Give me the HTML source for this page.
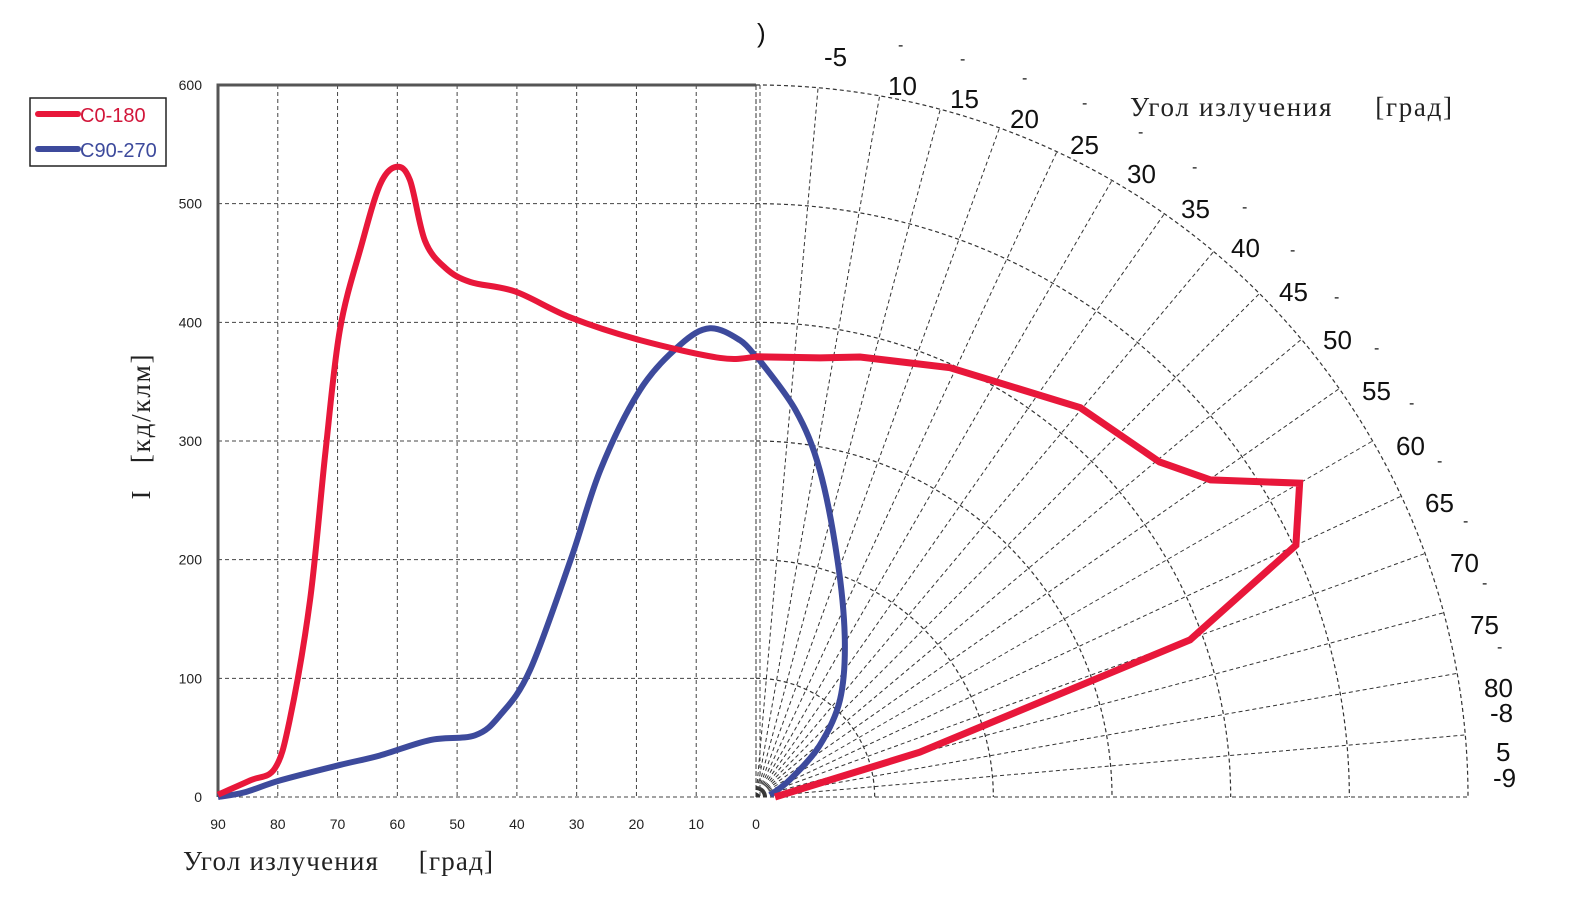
<!DOCTYPE html>
<html><head><meta charset="utf-8">
<style>
html,body{margin:0;padding:0;background:#fff;}
svg{display:block;}
</style></head>
<body>
<svg id="chart" width="1573" height="917" viewBox="0 0 1573 917" xmlns="http://www.w3.org/2000/svg">
  <g id="grid"></g>
  <g id="ticks" font-family="Liberation Sans, sans-serif" font-size="14" fill="#222"></g>
  <g id="polarLabels" font-family="Liberation Sans, sans-serif" font-size="26" fill="#111"></g>
  <g id="series"></g>
  <text x="183" y="870" textLength="310" lengthAdjust="spacing" font-family="Liberation Serif, serif" font-size="27" fill="#222">Угол излучения&#160;&#160;&#160;&#160; [град]</text>
  <text x="1130" y="116" textLength="322" lengthAdjust="spacing" font-family="Liberation Serif, serif" font-size="27" fill="#222">Угол излучения&#160;&#160;&#160;&#160; [град]</text>
  <text transform="translate(150,427) rotate(-90)" text-anchor="middle" textLength="145" lengthAdjust="spacing" font-family="Liberation Serif, serif" font-size="27" fill="#222">I&#160;&#160; [кд/клм]</text>
  <g>
    <rect x="30" y="98" width="136" height="68" fill="#fff" stroke="#222" stroke-width="1.5"/>
    <line x1="38" y1="114" x2="78" y2="114" stroke="#e8173a" stroke-width="6" stroke-linecap="round"/>
    <text x="80" y="122" font-family="Liberation Sans, sans-serif" font-size="20" fill="#d2163a">C0-180</text>
    <line x1="38" y1="149" x2="78" y2="149" stroke="#3d4a9c" stroke-width="6" stroke-linecap="round"/>
    <text x="80" y="157" font-family="Liberation Sans, sans-serif" font-size="20" fill="#3d4a9c">C90-270</text>
  </g>
</svg>
<script>
// ---- data ----
const yTicks = [0,100,200,300,400,500,600];
const xTicks = [90,80,70,60,50,40,30,20,10,0];
const redAngles = [90,84.6,80.5,78,74.6,72,69.6,66,62.9,60.2,57.9,55.4,52,47.8,40.3,31,19.4,6,0];
const redValues = [2,14,24,65,166,292,394,465,516,531,520,469,446,434,426,404,385,370,371];
const blueAngles = [90,85.5,79.6,69.6,62.9,54.5,47,42.8,37.8,31,26,19.4,12.7,7.7,2.7,0];
const blueValues = [0,4,14,27,35,48,52,69,107,200,276,343,381,395,385,371];
const redPolarAngles = [0,8.3,13.3,24.3,39.8,50.3,55.1,60,65,70.1,74.7,90];
const redPolarValues = [371,374,381,397,427,442,467,529,502,389,143,16];
const bluePolarAngles = [0,5.8,11,19,29.5,40.9,51,63,82];
const bluePolarValues = [372,328,281,211,152,108,69,32,12];
const polarLabelText = [")","-5","10","15","20","25","30","35","40","45","50","55","60","65","70","75","80","-8","5","-9"];

// ---- axes ----
const X0 = 756, Y0 = 797, PX_PER_DEG = 538/90, PX_PER_UNIT = 712/600;
const xs = a => X0 - a*PX_PER_DEG;
const ys = v => Y0 - v*PX_PER_UNIT;
const polar = (a,v) => { const r=v*PX_PER_UNIT, t=a*Math.PI/180; return [X0 + r*Math.sin(t), Y0 - r*Math.cos(t)]; };
const NS = "http://www.w3.org/2000/svg";
function mk(tag, attrs, parent){ const e=document.createElementNS(NS,tag); for(const k in attrs) e.setAttribute(k,attrs[k]); parent.appendChild(e); return e; }

const grid = document.getElementById('grid');
yTicks.forEach(v=>{
  const l = mk('line',{x1:218,x2:756,y1:ys(v),y2:ys(v),stroke:'#444','stroke-width':1,'stroke-dasharray':'4,3'},grid);
  
  
});
xTicks.forEach(a=>{
  const l = mk('line',{x1:xs(a),x2:xs(a),y1:85,y2:797,stroke:'#444','stroke-width':1,'stroke-dasharray':'4,3'},grid);
  
  
});
const fr = mk('path',{d:'M218,797 L218,85 L756,85',fill:'none',stroke:'#555','stroke-width':3},grid);


[100,200,300,400,500,600].forEach(v=>{
  const r=v*PX_PER_UNIT;
  const a = mk('path',{d:`M${X0},${Y0-r} A${r},${r} 0 0 1 ${X0+r},${Y0}`,fill:'none',stroke:'#333','stroke-width':1.2,'stroke-dasharray':'4,3'},grid);
  
  
});
for(let a=0;a<=90;a+=5){
  const p=polar(a,600);
  const s = mk('line',{x1:X0,y1:Y0,x2:p[0],y2:p[1],stroke:'#333','stroke-width':1,'stroke-dasharray':'4,3'},grid);
  
  
}
const sp = mk('line',{x1:760,y1:85,x2:760,y2:797,stroke:'#444','stroke-width':1,'stroke-dasharray':'4,3'},grid);



const tk = document.getElementById('ticks');
yTicks.forEach(v=>{
  const t = mk('text',{x:202,y:ys(v)+5,'text-anchor':'end'},tk);
  t.textContent=v;
  
  
});
xTicks.forEach(a=>{
  const t = mk('text',{x:xs(a),y:829,'text-anchor':'middle'},tk);
  t.textContent=a;
  
  
});

const pl = document.getElementById('polarLabels');
const labelPos = [[757,42],[824,66],[888,95],[950,108],[1010,128],[1070,154],[1127,183],[1181,218],[1231,257],[1279,301],[1323,349],[1362,400],[1396,455],[1425,512],[1450,572],[1470,634],[1484,697],[1490,722],[1496,761],[1493,787]];
polarLabelText.forEach((s,i)=>{
  const t = mk('text',{x:labelPos[i][0],y:labelPos[i][1]},pl);
  t.textContent=s;
  
  
});
const dashPos=[[898,50],[960,64],[1022,83],[1082,108],[1138,137],[1192,172],[1242,212],[1290,255],[1334,302],[1374,353],[1409,408],[1437,466],[1463,526],[1482,588],[1497,652]];
dashPos.forEach((p,i)=>{
  const t = mk('text',{x:p[0],y:p[1],'font-size':16},pl);
  t.textContent='-';
  
  
});

function smooth(pts){
  let d=`M${pts[0][0]},${pts[0][1]}`;
  for(let i=0;i<pts.length-1;i++){
    const p0=pts[Math.max(0,i-1)],p1=pts[i],p2=pts[i+1],p3=pts[Math.min(pts.length-1,i+2)];
    const c1=[p1[0]+(p2[0]-p0[0])/6,p1[1]+(p2[1]-p0[1])/6];
    const c2=[p2[0]-(p3[0]-p1[0])/6,p2[1]-(p3[1]-p1[1])/6];
    d+=` C${c1[0]},${c1[1]} ${c2[0]},${c2[1]} ${p2[0]},${p2[1]}`;
  }
  return d;
}
const sg = document.getElementById('series');
const redC = redAngles.map((a,i)=>[xs(a),ys(redValues[i])]);
const blueC = blueAngles.map((a,i)=>[xs(a),ys(blueValues[i])]);
const redP = redPolarAngles.map((a,i)=>polar(a,redPolarValues[i]));
const blueP = bluePolarAngles.map((a,i)=>polar(a,bluePolarValues[i]));
const b1 = mk('path',{d:smooth(blueC),fill:'none',stroke:'#3d4a9c','stroke-width':6,'stroke-linejoin':'round'},sg);


const b2 = mk('path',{d:smooth(blueP),fill:'none',stroke:'#3d4a9c','stroke-width':6,'stroke-linejoin':'round'},sg);


const r1 = mk('path',{d:smooth(redC),fill:'none',stroke:'#e8173a','stroke-width':6,'stroke-linejoin':'round'},sg);


const r2 = mk('path',{d:'M'+redP.map(p=>p.join(',')).join(' L'),fill:'none',stroke:'#e8173a','stroke-width':7,'stroke-linejoin':'miter'},sg);


</script>
</body></html>
